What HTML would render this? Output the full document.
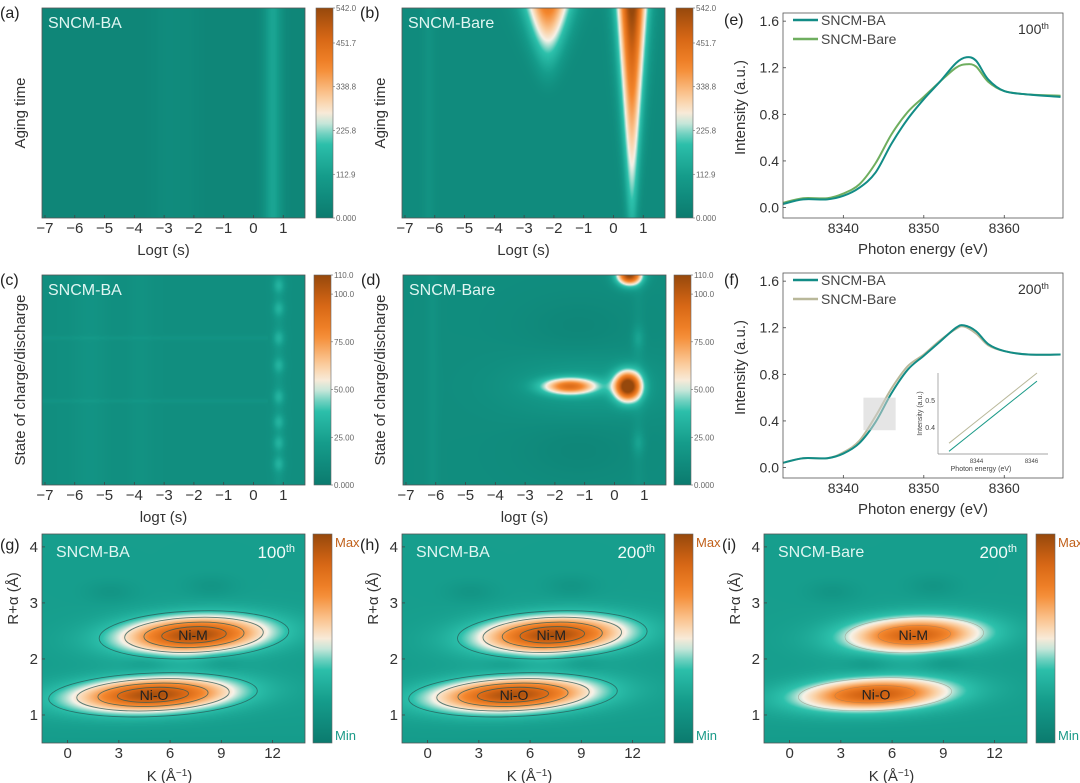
<!DOCTYPE html>
<html><head><meta charset="utf-8">
<style>
body{margin:0;background:#fff;}
#wrap{position:relative;width:1080px;height:783px;overflow:hidden;font-family:"Liberation Sans",sans-serif;}
canvas{position:absolute;}
svg{position:absolute;left:0;top:0;}
</style></head>
<body>
<div id="wrap">
<svg id="svg" width="1080" height="783"></svg>
</div>
<script>
// ---------- data ----------
const logTicks = [-7,-6,-5,-4,-3,-2,-1,0,1];
const cbTicksAB = [0,112.9,225.8,338.8,451.7,542.0];
const cbLabelsAB = ["0.000","112.9","225.8","338.8","451.7","542.0"];
const cbTicksCD = [0,25,50,75,100,110];
const cbLabelsCD = ["0.000","25.00","50.00","75.00","100.0","110.0"];
// heatmap a: vertical stripes [logτ, width, amplitude]
const stripesA = [[0.65,0.22,0.17],[-2.9,0.35,0.03],[-2.2,0.3,0.02]];
// heatmap b: cone blobs [logτ, width, ampTop, ampBottom, length]
const conesB = [[-2.2,0.5,0.66,0.0,0.45],[0.62,0.3,0.92,0.2,1.0]];
// heatmap c: spots at logτ 0.85, vertical fractions
const spotsC = [0.05,0.16,0.3,0.43,0.58,0.7,0.8,0.9];
const linesC = [0.3,0.6];
// heatmap d: blobs [logτ, yfrac, sx, sy, amp]
const blobsD = [[-1.5,0.53,0.65,0.028,0.62],[0.45,0.53,0.32,0.05,0.95],[0.5,0.0,0.3,0.035,0.9],[-1,0.53,1.8,0.1,0.1],[0.8,0.3,0.15,0.04,0.1],[0.8,0.8,0.15,0.04,0.1]];
// darker smooth regions in d [logτ, yfrac, sx, sy, amp]
const shadesD = [[-1.2,0.25,1.3,0.1,-0.035],[-1.2,0.83,1.3,0.1,-0.035]];
// WT peaks [K, R, sK, sR, amp, tilt]
const peaksG = [[7.4,2.43,3.0,0.23,0.75,0.012],[5.0,1.36,3.3,0.21,0.75,0.012]];
const peaksH = [[7.3,2.43,3.0,0.23,0.75,0.012],[5.0,1.36,3.3,0.21,0.74,0.012]];
const peaksI = [[7.3,2.43,2.8,0.22,0.66,0.01],[5.0,1.37,3.1,0.2,0.68,0.012]];
const darkSpots = [[2.5,3.2],[8.4,3.3],[4.6,1.92],[9.0,1.95]];
const kTicks = [0,3,6,9,12];
const rTicks = [1,2,3,4];
// XANES
const energyE = [8332.5,8335,8338,8340,8342,8344,8346,8348,8350,8352,8354,8355.3,8356.5,8358,8360,8363,8367];
const baE = [0.03,0.07,0.07,0.1,0.17,0.3,0.55,0.76,0.93,1.08,1.24,1.29,1.26,1.1,1.0,0.97,0.95];
const bareE = [0.04,0.08,0.08,0.12,0.2,0.38,0.63,0.82,0.95,1.08,1.2,1.23,1.21,1.08,1.0,0.97,0.96];
const energyF = [8332.5,8335,8338,8340,8342,8344,8346,8348,8350,8352,8354,8355,8356.5,8358,8360,8363,8367];
const baF = [0.04,0.08,0.08,0.12,0.21,0.39,0.64,0.84,0.96,1.08,1.2,1.22,1.17,1.06,1.0,0.97,0.97];
const bareF = [0.04,0.08,0.08,0.13,0.23,0.44,0.68,0.87,0.97,1.09,1.19,1.21,1.15,1.05,1.0,0.97,0.97];
const xTicksE = [8340,8350,8360];
const yTicksE = [0,0.4,0.8,1.2,1.6];
const insetE = [8343,8343.8,8344.6,8345.4,8346.2];
const insetBA = [0.31,0.375,0.44,0.505,0.57];
const insetBare = [0.34,0.405,0.47,0.535,0.6];

// ---------- helpers ----------
const NS="http://www.w3.org/2000/svg";
const svg=document.getElementById('svg');
const wrap=document.getElementById('wrap');
function el(tag,attrs,parent,text){const e=document.createElementNS(NS,tag);for(const k in attrs)e.setAttribute(k,attrs[k]);if(text!==undefined)e.textContent=text;(parent||svg).appendChild(e);return e;}
function lin(d0,d1,r0,r1){return v=>r0+(v-d0)/(d1-d0)*(r1-r0);}
const stops=[[0,[11,122,110]],[0.2,[21,156,139]],[0.36,[45,193,172]],[0.48,[247,242,232]],[0.57,[251,206,160]],[0.72,[244,134,44]],[0.86,[214,102,20]],[1,[150,72,12]]];
function cmap(t){t=Math.max(0,Math.min(1,t));for(let i=1;i<stops.length;i++){if(t<=stops[i][0]){const a=stops[i-1],b=stops[i];const f=(t-a[0])/(b[0]-a[0]);return a[1].map((v,j)=>Math.round(v+(b[1][j]-v)*f));}}return stops[stops.length-1][1];}
function heat(name,x,y,w,h,xr,yr,fn){
  const c=document.createElement('canvas');c.width=w;c.height=h;c.style.left=x+'px';c.style.top=y+'px';
  
  
  wrap.insertBefore(c,svg);
  const ctx=c.getContext('2d');const img=ctx.createImageData(w,h);
  for(let j=0;j<h;j++)for(let i=0;i<w;i++){
    const xv=xr[0]+(i+0.5)/w*(xr[1]-xr[0]);const yv=yr[0]+(j+0.5)/h*(yr[1]-yr[0]);
    const col=cmap(fn(xv,yv));const p=(j*w+i)*4;img.data[p]=col[0];img.data[p+1]=col[1];img.data[p+2]=col[2];img.data[p+3]=255;}
  ctx.putImageData(img,0,0);
}
function colorbar(name,x,y,w,h,ticks,labels,max,minmax){
  const g=el('g',{});
  const id='cb'+name;const d=el('defs',{},g);const lg=el('linearGradient',{id:id,x1:0,y1:1,x2:0,y2:0},d);
  for(let i=0;i<=20;i++){const c=cmap(i/20);el('stop',{offset:i/20,'stop-color':`rgb(${c})`},lg);}
  el('rect',{x:x,y:y,width:w,height:h,fill:`url(#${id})`,stroke:'#666','stroke-width':0.6},g);
  if(minmax){el('text',{x:x+w+3,y:y+13,'font-size':13,fill:'#c0601a'},g,'Max');el('text',{x:x+w+3,y:y+h-3,'font-size':13,fill:'#1a9a88'},g,'Min');return;}
  ticks.forEach((t,i)=>{const yy=y+h-t/max*h;el('line',{x1:x+w,x2:x+w+2,y1:yy,y2:yy,stroke:'#666','stroke-width':0.6},g);
    el('text',{x:x+w+3,y:yy+3,'font-size':8,fill:'#666'},g,labels[i]);});
}
function frame(name,x,y,w,h){el('rect',{x:x,y:y,width:w,height:h,fill:'none',stroke:'#555','stroke-width':0.8,});}
function xticks(name,vals,sx,y,fs,labels){const g=el('g',{});
  vals.forEach((v,i)=>{const xx=sx(v);el('line',{x1:xx,x2:xx,y1:y,y2:y-3,stroke:'#444','stroke-width':0.8},g);
  el('text',{x:xx,y:y+15,'font-size':fs,'text-anchor':'middle',fill:'#333'},g,labels?labels[i]:(v<0?'\u2212'+(-v):String(v)));});}
function yticks(name,vals,sy,x,fs,fmt){const g=el('g',{});
  vals.forEach(v=>{const yy=sy(v);el('line',{x1:x,x2:x+3,y1:yy,y2:yy,stroke:'#444','stroke-width':0.8},g);
  el('text',{x:x-4,y:yy+5,'font-size':fs,'text-anchor':'end',fill:'#333'},g,fmt(v));});}
function panelLabel(t,x,y){el('text',{x:x,y:y,'font-size':16,fill:'#222',},svg,'('+t+')');}
function title(t,x,y,name){el('text',{x:x,y:y,'font-size':16,fill:'#e0f6f2',},svg,t);}
function ylabel(t,x,y,name,fs){el('text',{x:x,y:y,'font-size':fs||15,fill:'#333','text-anchor':'middle',transform:`rotate(-90 ${x} ${y})`,},svg,t);}
function xlabel(t,x,y,name){el('text',{x:x,y:y,'font-size':15,fill:'#333','text-anchor':'middle',},svg,t);}
const G=(d,s)=>Math.exp(-0.5*d*d/(s*s));

// ---------- top row heatmaps ----------
const LX=[-7.1,1.73];
function fnA(x,y){let v=0.07;stripesA.forEach(s=>{v+=s[2]*G(x-s[0],s[1]);});return v;}
function fnB(x,y){let v=0.1+0.04*G(x+6.2,0.15);conesB.forEach(c=>{if(y<=c[4]){const f=y/c[4];const amp=c[2]+(c[3]-c[2])*f;const w=c[1]*(1-0.7*f)+0.05;v+=amp*G(x-c[0],w)*(c[3]>0?1:(1-f*f));}});return v;}
function fnC(x,y){let v=0.12+0.03*G(x+5.5,0.4)+0.02*G(x+3.8,0.3);spotsC.forEach(s=>{v+=0.13*G(x-0.85,0.14)*G(y-s,0.025);});linesC.forEach(l=>{v+=0.03*G(y-l,0.008)*(x<0.5?1:0);});v+=0.05*G(x-0.85,0.14);return v;}
function fnD(x,y){let v=0.11+0.03*G(x+6.1,0.15)+0.03*G(x-0.8,0.15);shadesD.forEach(b=>{v+=b[4]*G(x-b[0],b[2])*G(y-b[1],b[3]);});blobsD.forEach(b=>{v+=b[4]*G(x-b[0],b[2])*G(y-b[1],b[3]);});return v;}

const panelsTop=[
 {id:'a',px:42,py:8,cx:316,fn:fnA,t:'SNCM-BA',yl:'Aging time',xl:'Log\u03c4 (s)',cbT:cbTicksAB,cbL:cbLabelsAB,cbM:542,ylx:25},
 {id:'b',px:402,py:8,cx:676,fn:fnB,t:'SNCM-Bare',yl:'Aging time',xl:'Log\u03c4 (s)',cbT:cbTicksAB,cbL:cbLabelsAB,cbM:542,ylx:385},
 {id:'c',px:42,py:275,cx:314,fn:fnC,t:'SNCM-BA',yl:'State of charge/discharge',xl:'log\u03c4 (s)',cbT:cbTicksCD,cbL:cbLabelsCD,cbM:110,ylx:25},
 {id:'d',px:403,py:275,cx:674,fn:fnD,t:'SNCM-Bare',yl:'State of charge/discharge',xl:'log\u03c4 (s)',cbT:cbTicksCD,cbL:cbLabelsCD,cbM:110,ylx:385}];
panelsTop.forEach(p=>{
  const w=263,h=210;
  heat('heatmap-'+p.id,p.px,p.py,w,h,LX,[0,1],p.fn);
  frame('plot-frame-'+p.id,p.px,p.py,w,h);
  const sx=lin(LX[0],LX[1],p.px,p.px+w);
  xticks('x-ticks-'+p.id,logTicks,sx,p.py+h,15);
  xlabel(p.xl,p.px+w/2-10,p.py+h+37,'x-axis-title-'+p.id);
  ylabel(p.yl,p.ylx,p.py+h/2,'y-axis-title-'+p.id);
  title(p.t,p.px+6,p.py+20,'panel-title-'+p.id);
  panelLabel(p.id,p.px-42,p.py+10);
  colorbar('colorbar-'+p.id,p.cx,p.py,17,h,p.cbT,p.cbL,p.cbM,false);
});

// ---------- bottom wavelet heatmaps ----------
const KX=[-1.5,13.9],RY=[4.23,0.5];
function wt(peaks){return (k,r)=>{let v=0.21;if(r<1.0)v-=0.02*(1-r);peaks.forEach(p=>{const dr=r-(p[1]+p[5]*(k-p[0]));v+=p[4]*G(k-p[0],p[2])*G(dr,p[3]);});darkSpots.forEach(s=>{v-=0.05*G(k-s[0],0.9)*G(r-s[1],0.12);});return v;};}
const panelsBot=[
 {id:'g',px:42,cx:313,pk:peaksG,t:'SNCM-BA',c:'100',cont:true},
 {id:'h',px:402,cx:674,pk:peaksH,t:'SNCM-BA',c:'200',cont:true},
 {id:'i',px:764,cx:1036,pk:peaksI,t:'SNCM-Bare',c:'200',cont:false}];
panelsBot.forEach(p=>{
  const w=263,h=209,py=534;
  heat('wavelet-map-'+p.id,p.px,py,w,h,KX,RY,wt(p.pk));
  const sx=lin(KX[0],KX[1],p.px,p.px+w),sy=lin(RY[0],RY[1],py,py+h);
  const cg=el('g',{});
  const levels=p.cont?[0.18,0.4,0.62,0.82]:[0.35,0.75];
  p.pk.forEach(pk=>{levels.forEach(L=>{const kk=Math.sqrt(-2*Math.log(L));
     const rx=(sx(pk[0]+pk[2]*kk)-sx(pk[0]));const ry=(sy(pk[1])-sy(pk[1]+pk[3]*kk));
     const ang=Math.atan2(sy(pk[1]+pk[5])-sy(pk[1]),sx(1)-sx(0))*180/Math.PI;
     el('ellipse',{cx:sx(pk[0]),cy:sy(pk[1]),rx:rx,ry:ry,fill:'none',stroke:p.cont?'#2b5a55':'#8a7a6a','stroke-width':p.cont?0.9:0.6,'stroke-opacity':p.cont?0.75:0.5,transform:`rotate(${ang} ${sx(pk[0])} ${sy(pk[1])})`},cg);});});
  el('text',{x:sx(p.pk[0][0])-1,y:sy(p.pk[0][1])+5,'font-size':14,'text-anchor':'middle',fill:'#222',},svg,'Ni-M');
  el('text',{x:sx(p.pk[1][0])+1,y:sy(p.pk[1][1])+5,'font-size':14,'text-anchor':'middle',fill:'#222',},svg,'Ni-O');
  frame('plot-frame-'+p.id,p.px,py,w,h);
  xticks('x-ticks-'+p.id,kTicks,sx,py+h,15);
  yticks('y-ticks-'+p.id,rTicks,sy,p.px,15,v=>String(v));
  const xt=el('text',{x:p.px+w/2-4,y:py+h+38,'font-size':15,fill:'#333','text-anchor':'middle',},svg,'K (\u00c5');
  el('tspan',{'baseline-shift':'super','font-size':10},xt,'\u22121');el('tspan',{},xt,')');
  ylabel('R+\u03b1 (\u00c5)',p.px-24,py+h/2-40,'y-axis-title-'+p.id);
  title(p.t,p.px+14,py+23,'panel-title-'+p.id);
  const ct=el('text',{x:p.px+w-10,y:py+24,'font-size':17,fill:'#f2fbf9','text-anchor':'end',},svg,p.c);
  el('tspan',{'baseline-shift':'super','font-size':11},ct,'th');
  panelLabel(p.id,p.px-42,py+16);
  colorbar('colorbar-'+p.id,p.cx,py,19,h,null,null,1,true);
});

// ---------- XANES line charts ----------
function smooth(pts){let d='M'+pts[0][0]+','+pts[0][1];for(let i=0;i<pts.length-1;i++){const p0=pts[i-1]||pts[i],p1=pts[i],p2=pts[i+1],p3=pts[i+2]||p2;
 d+=` C${p1[0]+(p2[0]-p0[0])/6},${p1[1]+(p2[1]-p0[1])/6} ${p2[0]-(p3[0]-p1[0])/6},${p2[1]-(p3[1]-p1[1])/6} ${p2[0]},${p2[1]}`;}return d;}
function xanes(id,py,E,ba,bare,cycle,bareColor){
  const px=783,w=280,h=205;const yb=py+h;
  const sx=lin(8332.5,8367.3,px,px+w),sy=lin(-0.09,1.67,yb,py);
  const clip='clip'+id;const d=el('defs',{});const cp=el('clipPath',{id:clip},d);el('rect',{x:px,y:py,width:w,height:h},cp);
  const g=el('g',{'clip-path':`url(#${clip})`});
  const pa=el('path',{d:smooth(E.map((e,i)=>[sx(e),sy(bare[i])])),fill:'none',stroke:bareColor,'stroke-width':2},g);
  
  const pb=el('path',{d:smooth(E.map((e,i)=>[sx(e),sy(ba[i])])),fill:'none',stroke:'#128c86','stroke-width':2},g);
  
  frame('plot-frame-'+id,px,py,w,h);
  xticks('x-ticks-'+id,xTicksE,sx,yb,14);
  yticks('y-ticks-'+id,yTicksE,sy,px,14,v=>v.toFixed(1));
  xlabel('Photon energy (eV)',px+w/2,yb+36,'x-axis-title-'+id);
  ylabel('Intensity (a.u.)',745,py+h/2-8,'y-axis-title-'+id);
  panelLabel(id,724,py+12);
  const lg=el('g',{});
  el('line',{x1:793,x2:818,y1:py+7,y2:py+7,stroke:'#128c86','stroke-width':2.5},lg);
  el('text',{x:821,y:py+12,'font-size':14,fill:'#444'},lg,'SNCM-BA');
  el('line',{x1:793,x2:818,y1:py+26,y2:py+26,stroke:bareColor,'stroke-width':2.5},lg);
  el('text',{x:821,y:py+31,'font-size':14,fill:'#444'},lg,'SNCM-Bare');
  const ct=el('text',{x:1018,y:py+21,'font-size':14,fill:'#333',},svg,cycle);
  el('tspan',{'baseline-shift':'super','font-size':9},ct,'th');
  return {sx,sy};
}
xanes('e',13,energyE,baE,bareE,'100','#6fae5f');
const f=xanes('f',273,energyF,baF,bareF,'200','#b9b89a');
el('rect',{x:f.sx(8342.5),y:f.sy(0.6),width:f.sx(8346.5)-f.sx(8342.5),height:f.sy(0.32)-f.sy(0.6),fill:'#cfcfcf','fill-opacity':0.55,});
(function(){
  const x0=938,x1=1048,y0=373,y1=454;
  const g=el('g',{});
  el('rect',{x:x0,y:y0,width:x1-x0,height:y1-y0,fill:'#fff'},g);
  el('line',{x1:x0,x2:x0,y1:y0,y2:y1,stroke:'#888','stroke-width':0.7},g);
  el('line',{x1:x0,x2:x1,y1:y1,y2:y1,stroke:'#888','stroke-width':0.7},g);
  const sx=lin(8342.6,8346.6,x0,x1),sy=lin(0.3,0.6,y1,y0);
  el('polyline',{points:insetE.map((e,i)=>sx(e)+','+sy(insetBare[i])).join(' '),fill:'none',stroke:'#b9b89a','stroke-width':1},g);
  el('polyline',{points:insetE.map((e,i)=>sx(e)+','+sy(insetBA[i])).join(' '),fill:'none',stroke:'#1a9a88','stroke-width':1},g);
  [0.4,0.5].forEach(v=>el('text',{x:x0-3,y:sy(v)+3,'font-size':7,'text-anchor':'end',fill:'#444'},g,String(v)));
  [8344,8346].forEach(v=>el('text',{x:sx(v),y:y1+9,'font-size':6,'text-anchor':'middle',fill:'#444'},g,String(v)));
  el('text',{x:x0+43,y:y1+17,'font-size':7,'text-anchor':'middle',fill:'#444'},g,'Photon energy (eV)');
  el('text',{x:x0-16,y:(y0+y1)/2,'font-size':7,'text-anchor':'middle',fill:'#444',transform:`rotate(-90 ${x0-16} ${(y0+y1)/2})`},g,'Intensity (a.u.)');
})();
</script>
</body></html>
